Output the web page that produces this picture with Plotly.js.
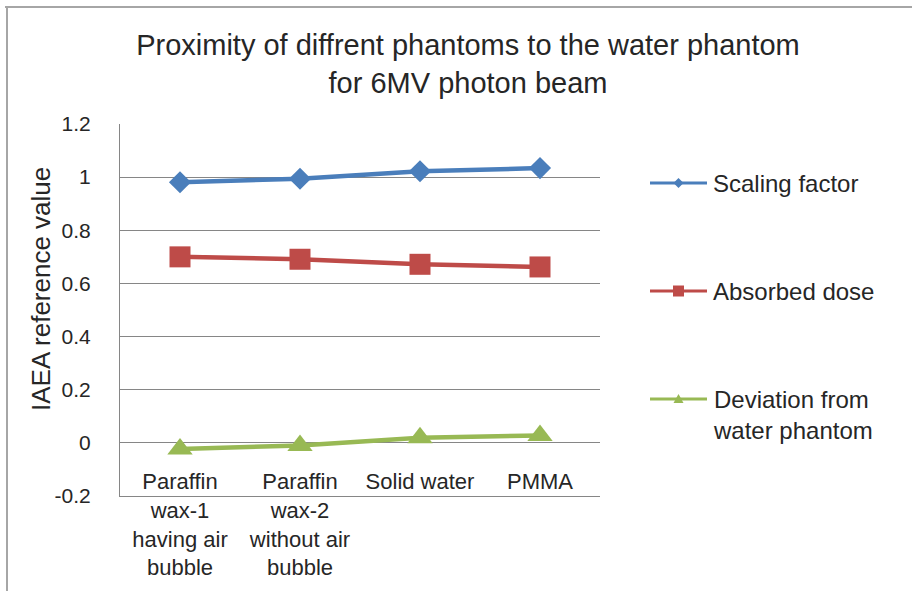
<!DOCTYPE html>
<html>
<head>
<meta charset="utf-8">
<script src="https://cdn.plot.ly/plotly-3.0.1.min.js"></script>
<style>html,body{margin:0;padding:0;background:#fff;}#chart{width:912px;height:591px;}</style>
</head>
<body>
<div id="chart"></div>
<script>
// ---- data ----
const categories = ["Paraffin wax-1 having air bubble", "Paraffin wax-2 without air bubble", "Solid water", "PMMA"];
const tickLabels = ["Paraffin<br>wax-1<br>having air<br>bubble", "Paraffin<br>wax-2<br>without air<br>bubble", "Solid water", "PMMA"];
const scalingFactor = [0.981, 0.994, 1.022, 1.034];
const absorbedDose = [0.700, 0.691, 0.672, 0.662];
const deviationFromWater = [-0.023, -0.010, 0.019, 0.028];
const seriesNames = ["Scaling factor", "Absorbed dose", "Deviation from<br>water phantom"];
const yTicks = [-0.2, 0, 0.2, 0.4, 0.6, 0.8, 1, 1.2];
const yTickText = ["-0.2", "0", "0.2", "0.4", "0.6", "0.8", "1", "1.2"];
const yMin = -0.2, yMax = 1.2;

// ---- styling ----
const colors = ["#4A7EBB", "#BE4B48", "#98B954"];
const symbols = ["diamond", "square", "triangle-up"];
const sizes = [17, 21, 22];
const FONT = "Liberation Sans, Arial, sans-serif";
const TXT = "#262626";
const GRID = "#868686";

const W = 912, H = 591, L = 120, R = 312, T = 124, B = 95;
const PW = W - L - R, PH = H - T - B;
const px = x => (x - L) / PW;
const py = y => (H - B - y) / PH;

const seriesData = [scalingFactor, absorbedDose, deviationFromWater];
const traces = seriesData.map((vals, i) => ({
  type: "scatter", mode: "lines+markers",
  x: categories, y: vals, name: seriesNames[i],
  line: {color: colors[i], width: 4.5},
  marker: {color: colors[i], symbol: symbols[i], size: sizes[i], line: {width: 0}},
  showlegend: false, hoverinfo: "x+y"
}));

const shapes = [];
const annotations = [];

// manual legend
const legendY = [183, 291, 399];
legendY.forEach((y, i) => {
  shapes.push({type: "line", xref: "paper", yref: "paper", x0: px(650), x1: px(707), y0: py(y), y1: py(y),
    line: {color: colors[i], width: 3}});
  annotations.push({xref: "paper", yref: "paper", x: px(711), y: py(y), xanchor: "left", yanchor: i === 2 ? "top" : "middle",
    yshift: i === 2 ? 15 : 0,
    text: seriesNames[i], showarrow: false, align: "left", font: {family: FONT, size: 24, color: TXT}});
});
// legend markers
{
  const cx = 678.5;
  const y0 = legendY[0];
  shapes.push({type: "path", xref: "paper", yref: "paper",
    path: `M${px(cx-5)},${py(y0)} L${px(cx)},${py(y0-5)} L${px(cx+5)},${py(y0)} L${px(cx)},${py(y0+5)} Z`,
    fillcolor: colors[0], line: {width: 0}});
  const y1 = legendY[1];
  shapes.push({type: "rect", xref: "paper", yref: "paper", x0: px(cx-5.5), x1: px(cx+5.5), y0: py(y1+5.5), y1: py(y1-5.5),
    fillcolor: colors[1], line: {width: 0}});
  const y2 = legendY[2];
  shapes.push({type: "path", xref: "paper", yref: "paper",
    path: `M${px(cx-5)},${py(y2+4)} L${px(cx)},${py(y2-5)} L${px(cx+5)},${py(y2+4)} Z`,
    fillcolor: colors[2], line: {width: 0}});
}
// outer frame
shapes.push({type: "line", xref: "paper", yref: "paper", x0: px(5), x1: px(915), y0: py(7), y1: py(7), line: {color: "#A6A6A6", width: 2}});
shapes.push({type: "line", xref: "paper", yref: "paper", x0: px(7), x1: px(7), y0: py(6), y1: py(595), line: {color: "#A6A6A6", width: 2}});

// y-axis title
annotations.push({xref: "paper", yref: "paper", x: px(41), y: py(289), text: "IAEA reference value", textangle: -90,
  showarrow: false, font: {family: FONT, size: 26, color: TXT}, xanchor: "center", yanchor: "middle"});

const layout = {
  width: W, height: H,
  margin: {l: L, r: R, t: T, b: B, pad: 0},
  paper_bgcolor: "#fff", plot_bgcolor: "#fff",
  font: {family: FONT, color: TXT},
  title: {text: "Proximity of diffrent phantoms to the water phantom<br>for 6MV photon beam",
    x: 468 / W, xanchor: "center", y: 1 - 55 / H, yanchor: "middle", xref: "container", yref: "container",
    font: {family: FONT, size: 29, color: TXT}},
  xaxis: {
    type: "category", range: [-0.5, 3.5], tickvals: categories, ticktext: tickLabels,
    anchor: "y", side: "bottom", showgrid: false, zeroline: false,
    showline: true, linecolor: GRID, linewidth: 1,
    ticks: "", ticklabelstandoff: -34, tickfont: {family: FONT, size: 22, color: TXT}, fixedrange: true
  },
  yaxis: {
    range: [yMin, yMax], tickvals: yTicks, ticktext: yTickText,
    showgrid: true, gridcolor: GRID, gridwidth: 1, zeroline: false,
    showline: true, linecolor: GRID, linewidth: 1,
    ticks: "", ticklabelstandoff: 24, tickfont: {family: FONT, size: 21, color: TXT}, fixedrange: true
  },
  shapes: shapes,
  annotations: annotations,
  showlegend: false
};

Plotly.newPlot("chart", traces, layout, {displayModeBar: false, staticPlot: true});
</script>
</body>
</html>
